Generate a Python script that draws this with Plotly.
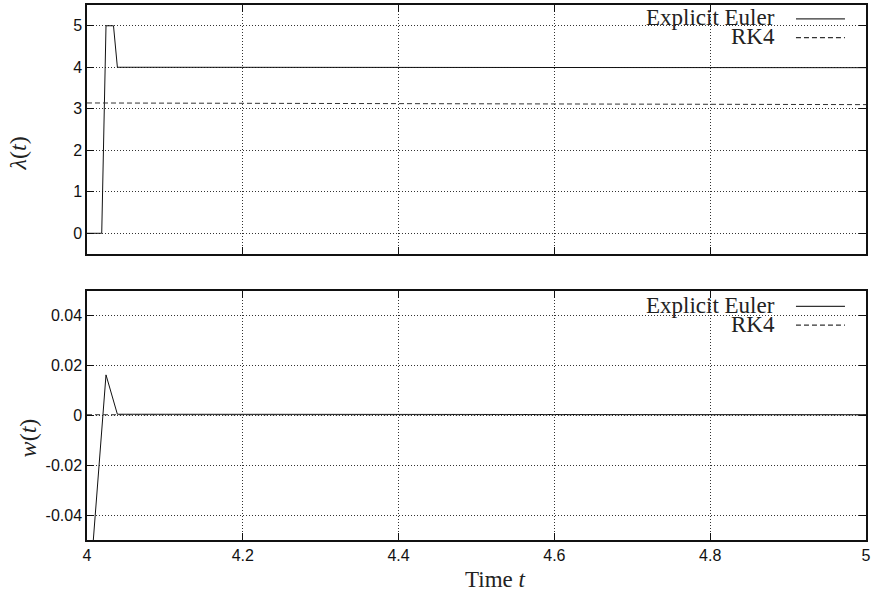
import plotly.graph_objects as go

# ---- data ----
t_euler_lam = [4.0, 4.0189, 4.0244, 4.034, 4.039, 5.0]
lam_euler = [0.0, 0.0, 5.0, 5.0, 4.0, 3.99]
t_rk4_lam = [4.0, 5.0]
lam_rk4 = [3.14, 3.10]

t_euler_w = [4.0, 4.0244, 4.039, 5.0]
w_euler = [-0.083, 0.0163, 0.0005, 0.0003]
t_rk4_w = [4.0, 5.0]
w_rk4 = [0.0003, 0.0003]

x_ticks = [4.0, 4.2, 4.4, 4.6, 4.8, 5.0]
x_ticklabels = ["4", "4.2", "4.4", "4.6", "4.8", "5"]
lam_ticks = [0, 1, 2, 3, 4, 5]
w_ticks = [-0.04, -0.02, 0, 0.02, 0.04]
w_ticklabels = ["-0.04", "-0.02", "0", "0.02", "0.04"]
series_names = ["Explicit Euler", "RK4"]

LINE = "#111111"
DASH = "5px,3px"
fig = go.Figure()
fig.add_trace(go.Scatter(x=t_euler_lam, y=lam_euler, mode="lines", name=series_names[0],
                         line=dict(color=LINE, width=1), xaxis="x", yaxis="y"))
fig.add_trace(go.Scatter(x=t_rk4_lam, y=lam_rk4, mode="lines", name=series_names[1],
                         line=dict(color="#333333", width=1, dash=DASH), xaxis="x", yaxis="y"))
fig.add_trace(go.Scatter(x=t_euler_w, y=w_euler, mode="lines", name=series_names[0],
                         line=dict(color=LINE, width=1), xaxis="x2", yaxis="y2"))
fig.add_trace(go.Scatter(x=t_rk4_w, y=w_rk4, mode="lines", name=series_names[1],
                         line=dict(color="#333333", width=1, dash=DASH), xaxis="x2", yaxis="y2"))

tickfont = dict(family="Liberation Sans, Arial, sans-serif", size=16, color="#111")
axis_common = dict(showline=True, linecolor="#111", linewidth=1.5, mirror="allticks",
                   ticks="inside", ticklen=7, tickcolor="#111", tickwidth=1.2,
                   showgrid=True, gridcolor="#333", griddash="1px,2px", gridwidth=1,
                   zeroline=False, tickfont=tickfont)

H_TOP = [0.5345, 1.0]
H_BOT = [0.0, 0.4655]

fig.update_layout(
    width=874, height=596,
    margin=dict(l=87, r=8, t=3, b=56),
    paper_bgcolor="white", plot_bgcolor="white",
    showlegend=False,
    xaxis=dict(axis_common, domain=[0, 1], range=[4, 5], tickvals=x_ticks,
               showticklabels=False, anchor="y"),
    yaxis=dict(axis_common, domain=H_TOP, range=[-0.5, 5.5], tickvals=lam_ticks,
               anchor="x"),
    xaxis2=dict(axis_common, domain=[0, 1], range=[4, 5], tickvals=x_ticks,
                ticktext=x_ticklabels, anchor="y2"),
    yaxis2=dict(axis_common, domain=H_BOT, range=[-0.05, 0.05], tickvals=w_ticks,
                ticktext=w_ticklabels, anchor="x2"),
)

serif = "Liberation Serif, Times New Roman, serif"
anns = []
shapes = []
# legends (text left of line sample, gnuplot style)
for (ye, yr) in [(0.974, 0.939), (0.4365, 0.4015)]:
    for name, yy, dash in [(series_names[0], ye, "solid"), (series_names[1], yr, DASH)]:
        anns.append(dict(x=0.8857, y=yy + 0.002, xref="paper", yref="paper", text=name,
                         showarrow=False, xanchor="right", yanchor="middle",
                         font=dict(family=serif, size=23, color="#222")))
        shapes.append(dict(type="line", xref="paper", yref="paper", x0=0.9101, x1=0.9730,
                           y0=yy, y1=yy, line=dict(color="#333", width=1.2, dash=dash)))

# axis titles
anns.append(dict(x=-0.0886, y=0.7225, xref="paper", yref="paper",
                 text="<i>λ</i>(<i>t</i>)", showarrow=False, textangle=-90,
                 xanchor="center", yanchor="middle",
                 font=dict(family=serif, size=24, color="#222")))
anns.append(dict(x=-0.0757, y=0.19, xref="paper", yref="paper",
                 text="<i>w</i>(<i>t</i>)", showarrow=False, textangle=-90,
                 xanchor="center", yanchor="middle",
                 font=dict(family=serif, size=24, color="#222")))
anns.append(dict(x=0.524, y=-0.0745, xref="paper", yref="paper",
                 text="Time <i>t</i>", showarrow=False,
                 xanchor="center", yanchor="middle",
                 font=dict(family=serif, size=23, color="#222")))

fig.update_layout(annotations=anns, shapes=shapes)
fig.write_html("out.html")
